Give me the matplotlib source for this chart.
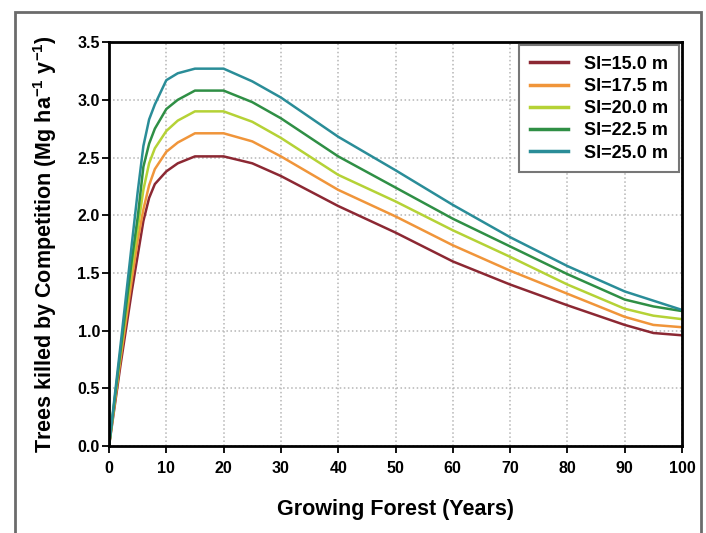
import matplotlib
matplotlib.use('Agg')
import matplotlib.pyplot as plt
from matplotlib.patches import Rectangle

plt.rcParams['font.family'] = ['Liberation Sans', 'DejaVu Sans']
plt.rcParams['font.weight'] = 'bold'
plt.rcParams['axes.labelweight'] = 'bold'
plt.rcParams['mathtext.fontset'] = 'custom'
plt.rcParams['mathtext.rm'] = 'Liberation Sans:bold'
plt.rcParams['mathtext.bf'] = 'Liberation Sans:bold'
plt.rcParams['mathtext.default'] = 'bf'

# stand age (years) and yearly mortality by site index
years = [0, 2, 4, 5, 6, 7, 8, 10, 12, 15, 20, 25, 30, 40, 50, 60, 70, 80, 90, 95, 100]
si_150 = [0, 0.70, 1.35, 1.65, 1.95, 2.15, 2.27, 2.38, 2.45, 2.51, 2.51, 2.45, 2.34, 2.08, 1.85, 1.60, 1.40, 1.22, 1.05, 0.98, 0.96]
si_175 = [0, 0.75, 1.45, 1.78, 2.05, 2.26, 2.40, 2.55, 2.63, 2.71, 2.71, 2.64, 2.51, 2.22, 1.99, 1.74, 1.52, 1.32, 1.12, 1.05, 1.03]
si_200 = [0, 0.80, 1.55, 1.88, 2.22, 2.45, 2.58, 2.73, 2.82, 2.90, 2.90, 2.81, 2.67, 2.35, 2.12, 1.87, 1.64, 1.40, 1.19, 1.13, 1.10]
si_225 = [0, 0.82, 1.62, 1.98, 2.42, 2.62, 2.75, 2.92, 3.00, 3.08, 3.08, 2.98, 2.84, 2.51, 2.24, 1.97, 1.73, 1.49, 1.27, 1.21, 1.17]
si_250 = [0, 0.87, 1.76, 2.20, 2.60, 2.83, 2.96, 3.17, 3.23, 3.27, 3.27, 3.16, 3.02, 2.68, 2.39, 2.09, 1.81, 1.56, 1.34, 1.26, 1.18]

series = [si_150, si_175, si_200, si_225, si_250]
labels = ['SI=15.0 m', 'SI=17.5 m', 'SI=20.0 m', 'SI=22.5 m', 'SI=25.0 m']
colors = ['#8c2833', '#f0953a', '#b5d236', '#2f8f45', '#2a8d98']

fig = plt.figure(figsize=(7.06, 5.33), dpi=100)
ax = fig.add_axes([0.1544, 0.163, 0.8116, 0.758])

# frame around the whole figure
fig.patches.append(Rectangle((0.021, -0.05), 0.972, 1.027, transform=fig.transFigure,
                             fill=False, edgecolor='#6b6b6b', linewidth=2))

for vals, lab, col in zip(series, labels, colors):
    ax.plot(years, vals, color=col, linewidth=1.8, label=lab)

ax.set_xlim(0, 100)
ax.set_ylim(0, 3.5)
ax.set_xticks(range(0, 101, 10))
ax.set_yticks([0, 0.5, 1.0, 1.5, 2.0, 2.5, 3.0, 3.5])
ax.set_yticklabels([f'{v:.1f}' for v in ax.get_yticks()])
ax.grid(True, linestyle=':', color='#b5b5b5', linewidth=1.1)
ax.set_axisbelow(True)

for sp in ax.spines.values():
    sp.set_linewidth(2)
ax.tick_params(direction='out', length=5, width=1.3, labelsize=11.5)
ax.tick_params(axis='x', pad=6)
ax.tick_params(axis='y', pad=1.5)

ax.set_xlabel('Growing Forest (Years)', fontsize=15.5, labelpad=16)
ax.set_ylabel('Trees killed by Competition (Mg ha$^{-1}$ y$^{-1}$)', fontsize=15.5, labelpad=13)

leg = ax.legend(loc='upper right', fontsize=13, handlelength=2.1, labelspacing=0.29,
                handletextpad=0.9, borderaxespad=0.15, fancybox=False, framealpha=1,
                borderpad=0.6)
leg.get_frame().set_edgecolor('#777777')
leg.get_frame().set_linewidth(1.5)
for line in leg.get_lines():
    line.set_linewidth(2.5)

plt.savefig('out.png', dpi=100)
plt.close(fig)
